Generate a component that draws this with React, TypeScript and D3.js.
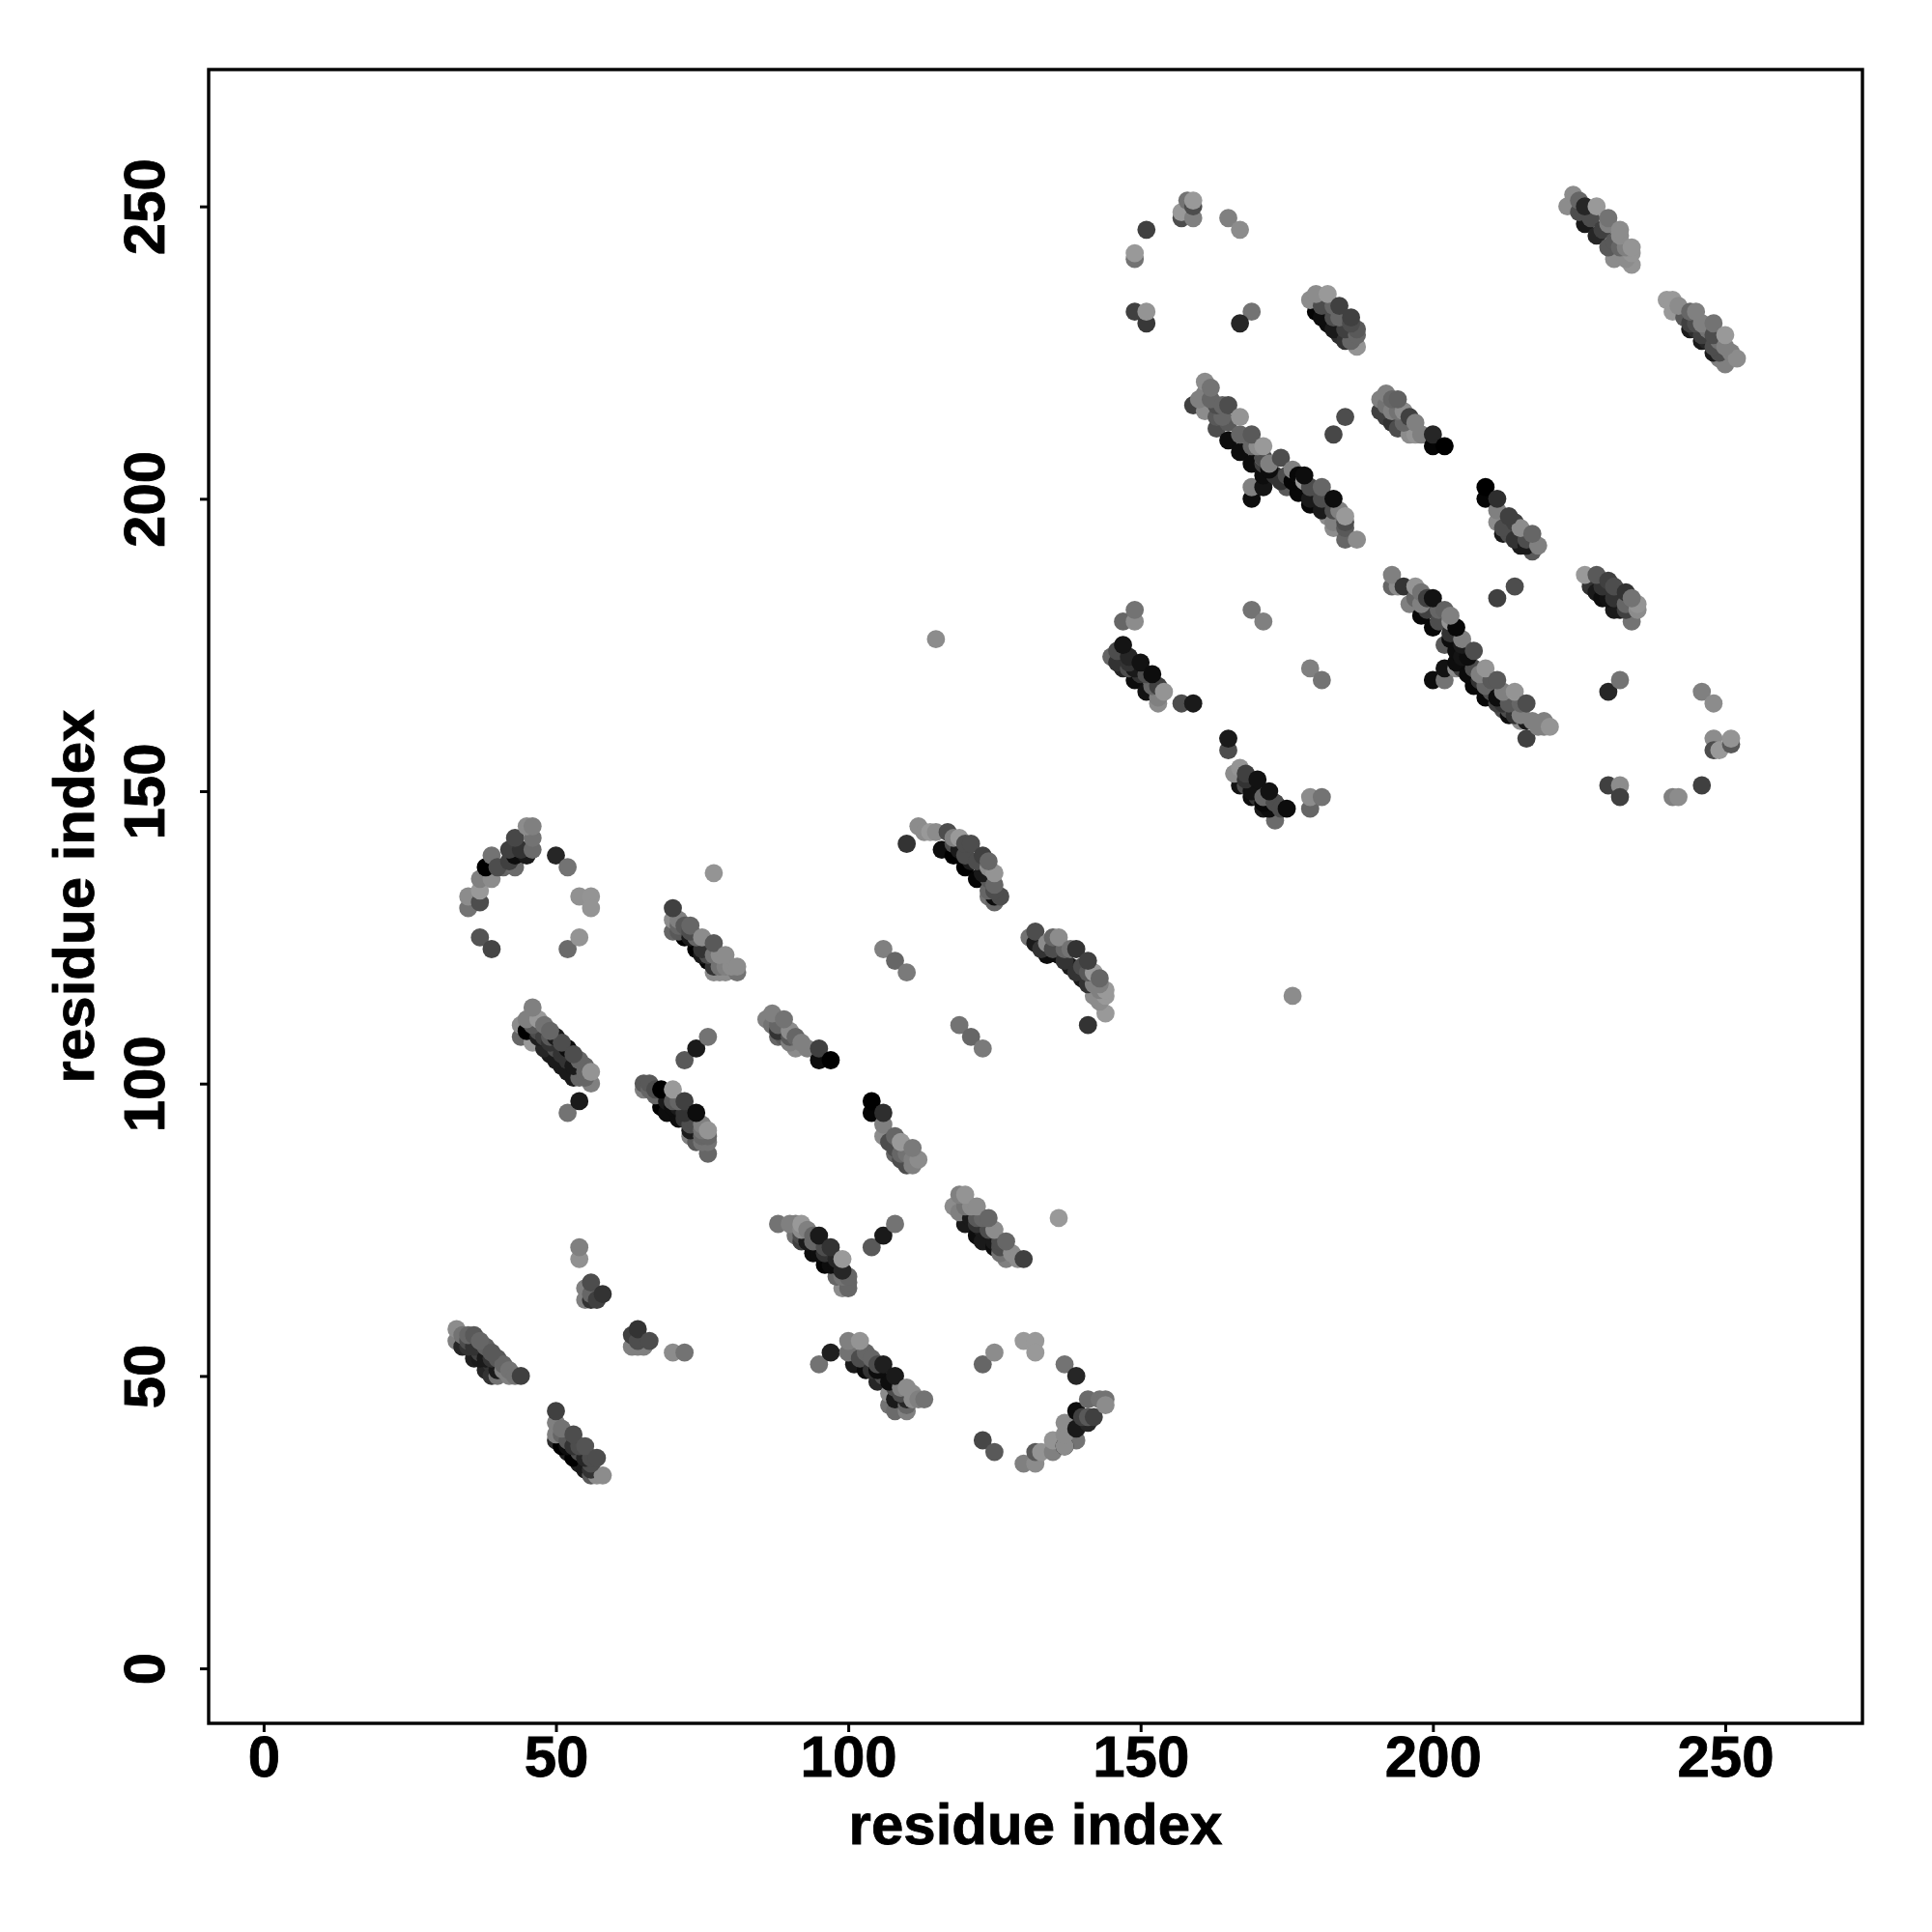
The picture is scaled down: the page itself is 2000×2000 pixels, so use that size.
import React, { useEffect, useRef } from 'react'
import * as d3 from 'd3'

type Dot = [number, number, number] // x residue, y residue, grey level

const xTicks = [0, 50, 100, 150, 200, 250]
const yTicks = [0, 50, 100, 150, 200, 250]
const axisLabel = 'residue index'

const strandA: Dot[] = [[33, 58, .55], [33, 56, .5], [34, 57, .45], [34, 55, .15], [36, 53, .12], [38, 51, .15], [39, 50, .2], [35, 57, .4], [36, 57, .35], [35, 55, .2], [37, 54, .25], [38, 55, .38], [39, 52, .2], [40, 53, .35], [40, 50, .45], [41, 51, .5], [42, 50, .5], [44, 50, .25], [35, 56, .3], [37, 56, .4], [37, 53, .1], [39, 53, .2], [41, 52, .4], [39, 54, .35], [36, 55, .2], [38, 53, .1], [40, 51, .1], [42, 51, .45], [43, 50, .45]]
const strandB: Dot[] = [[50, 44, .25], [50, 39, .18], [50, 42, .5], [50, 40, .5], [52, 37, .12], [51, 38, 0], [54, 35, .12], [53, 36, 0], [51, 40, .4], [53, 40, .3], [54, 38, .3], [55, 38, .33], [55, 34, .1], [57, 36, .3], [56, 33, .35], [57, 33, .55], [58, 33, .55], [52, 39, .35], [54, 37, .3], [53, 38, .2], [52, 38, .05], [56, 35, .3], [55, 36, .15], [56, 36, .3], [51, 41, .45], [56, 34, .2]]
const strandC: Dot[] = [[54, 72, .5], [54, 70, .57], [55, 65, .5], [55, 63, .5], [56, 63, .2], [56, 66, .3], [56, 64, .4], [57, 63, .25], [58, 64, .2]]
const strandD: Dot[] = [[63, 57, .25], [63, 55, .5], [64, 55, .5], [65, 55, .5], [64, 56, .3], [64, 58, .2], [66, 56, .3], [70, 54, .55], [72, 54, .45]]
const strandE: Dot[] = [[95, 52, .45], [97, 54, .12], [107, 45, .45], [110, 44, .5], [108, 44, .42], [100, 54, .45], [100, 56, .5], [102, 56, .58], [101, 52, .1], [103, 51, .05], [105, 49, .15], [107, 47, .55], [103, 54, .4], [104, 53, .4], [106, 52, .12], [108, 50, .1], [110, 46, .15], [109, 48, .5], [111, 47, .55], [111, 46, .55], [113, 46, .45], [102, 53, .3], [104, 51, .2], [106, 50, .3], [108, 48, .3], [110, 48, .55], [105, 52, .3], [108, 46, .1], [109, 47, .3], [107, 49, .05], [105, 51, .05], [112, 46, .5], [110, 45, .4]]
const arcLower: Dot[] = [[123, 52, .4], [125, 54, .55], [130, 56, .6], [132, 56, .6], [132, 54, .6], [137, 52, .45], [139, 50, .15], [123, 39, .28], [125, 37, .35], [130, 35, .5], [132, 35, .55], [132, 37, .35], [133, 37, .58], [135, 37, .5], [135, 39, .58], [139, 39, .45], [137, 38, 0], [137, 38, .55], [137, 40, .55], [137, 42, .55], [139, 41, .1], [139, 44, .05], [141, 42, .15], [140, 43, .25], [141, 43, .35], [142, 43, .25], [141, 46, .42], [143, 46, .45], [144, 46, .45], [144, 45, .55]]

const arcUpper: Dot[] = [[37, 125, .33], [39, 123, .27], [52, 123, .42], [54, 125, .58], [50, 139, .15], [52, 137, .45], [54, 132, .57], [56, 132, .58], [56, 130, .58], [35, 130, .45], [35, 132, .55], [37, 131, .3], [37, 133, .6], [37, 135, .5], [39, 135, .55], [38, 137, 0], [39, 139, .45], [41, 137, .4], [43, 137, .42], [40, 137, .3], [42, 138, .25], [43, 139, .05], [45, 139, .1], [42, 140, .25], [44, 140, .2], [43, 142, .28], [46, 140, .42], [46, 142, .45], [45, 144, .55], [46, 144, .5]]
const strandI: Dot[] = [[44, 108, .4], [44, 110, .55], [46, 113, .5], [46, 107, .6], [45, 109, 0], [47, 111, .6], [49, 105, .1], [47, 108, .12], [51, 103, .1], [48, 110, .45], [49, 108, .35], [53, 101, .1], [50, 108, .1], [52, 106, .05], [50, 106, .3], [54, 101, .4], [54, 104, .4], [55, 103, .4], [56, 100, .5], [56, 102, .58], [54, 97, .1], [52, 95, .45], [47, 109, .3], [48, 108, .25], [49, 107, .2], [51, 105, .2], [52, 104, .2], [53, 103, .1], [51, 107, .3], [53, 105, .3], [55, 101, .4], [55, 102, .4], [49, 109, .4], [46, 110, .35], [45, 111, .5], [48, 106, .15], [50, 104, .1], [52, 102, .1]]
const strandJ: Dot[] = [[65, 99, .5], [65, 100, .35], [66, 100, .35], [67, 98, .4], [68, 96, 0], [68, 99, 0], [70, 99, .6], [71, 94, .05], [69, 97, .1], [72, 97, .25], [71, 97, .4], [73, 92, .1], [74, 95, .05], [73, 91, .5], [75, 93, .5], [76, 90, .45], [76, 88, .4], [76, 92, .58], [76, 108, .45], [74, 106, .1], [72, 104, .35], [67, 99, .3], [69, 95, .05], [71, 96, .1], [70, 97, .35], [72, 94, .2], [73, 93, .3], [74, 93, .3], [74, 90, .35], [75, 90, .45], [75, 91, .4], [66, 99, .4], [70, 96, .05], [72, 95, .2], [76, 91, .4], [75, 92, .45]]
const strandK: Dot[] = [[86, 111, .5], [87, 112, .5], [88, 108, .4], [89, 111, .45], [90, 109, .55], [91, 106, .55], [91, 108, .4], [93, 106, .5], [95, 106, .25], [95, 104, .05], [97, 104, 0], [89, 108, .35], [88, 110, .4], [90, 108, .35], [92, 107, .5], [87, 110, .45], [90, 107, .5], [88, 109, .2]]
const strandM: Dot[] = [[70, 130, .25], [70, 126, .4], [70, 128, .55], [71, 128, .5], [72, 125, 0], [74, 123, 0], [76, 121, .02], [72, 127, .35], [73, 127, .4], [74, 125, .4], [75, 125, .55], [77, 124, .35], [76, 122, .3], [78, 119, .55], [79, 119, .55], [78, 122, .55], [79, 122, .55], [81, 119, .45], [81, 120, .55], [77, 136, .58], [73, 126, .3], [75, 123, .2], [77, 122, .45], [71, 126, .35], [75, 122, .1], [77, 120, .2], [79, 120, .5], [77, 119, .55], [80, 120, .55], [78, 120, .45], [73, 125, .1], [71, 127, .4]]
const strandN: Dot[] = [[110, 141, .2], [112, 144, .55], [114, 143, .6], [115, 143, .55], [117, 143, .3], [116, 140, .05], [118, 139, 0], [120, 137, 0], [122, 135, .02], [119, 142, .6], [120, 141, .3], [121, 141, .3], [123, 139, .25], [124, 135, .35], [124, 137, .55], [125, 136, .58], [124, 132, .45], [125, 131, .4], [125, 132, .05], [126, 132, .3], [113, 143, .55], [118, 141, .3], [119, 140, .1], [121, 138, .1], [123, 136, .1], [122, 138, .3], [124, 138, .4], [120, 139, .3], [125, 134, .4], [125, 133, .3], [124, 133, .4], [118, 142, .5]]
const strandO: Dot[] = [[131, 125, .45], [132, 124, .1], [132, 126, .3], [134, 124, .55], [135, 125, .4], [136, 125, .55], [136, 122, .05], [138, 120, .1], [140, 118, .1], [138, 123, .45], [139, 123, .2], [141, 121, .25], [142, 119, .6], [143, 118, .4], [143, 114, .55], [144, 112, .6], [144, 116, .6], [144, 115, .6], [141, 110, .2], [134, 122, .05], [133, 123, .2], [135, 123, .3], [137, 121, .2], [139, 119, .2], [140, 120, .3], [141, 119, .35], [142, 117, .5], [143, 116, .5], [142, 115, .55], [143, 117, .5], [141, 117, .2], [137, 123, .4]]
const linkDots: Dot[] = [[106, 123, .5], [108, 121, .4], [110, 119, .48], [119, 110, .45], [121, 108, .4], [123, 106, .48], [115, 176, .55], [176, 115, .55]]
const strandQ: Dot[] = [[104, 97, 0], [104, 95, .02], [106, 95, .18], [106, 93, .5], [106, 91, .55], [108, 91, .4], [108, 88, .4], [109, 90, .6], [110, 86, .3], [111, 86, .5], [111, 89, .48], [112, 87, .55], [107, 90, .3], [108, 89, .3], [110, 88, .45], [109, 87, .3], [109, 88, .4], [111, 87, .5]]
const strandG: Dot[] = [[88, 76, .45], [90, 76, .5], [91, 76, .5], [92, 76, .6], [91, 74, .45], [93, 75, .5], [94, 71, .05], [96, 69, .02], [92, 73, .25], [95, 74, .1], [94, 73, .4], [97, 72, .2], [98, 69, .05], [99, 70, .6], [99, 65, .55], [100, 65, .4], [100, 66, .4], [100, 67, .4], [108, 76, .45], [106, 74, .1], [104, 72, .35], [92, 74, .3], [93, 73, .1], [95, 71, .05], [97, 69, .05], [96, 72, .3], [98, 70, .15], [94, 74, .4], [96, 71, .2], [98, 67, .4], [99, 67, .45], [99, 68, .15], [92, 75, .55]]
const strandH: Dot[] = [[118, 79, .55], [119, 81, .5], [120, 81, .58], [122, 79, .55], [120, 76, .1], [122, 74, .05], [124, 77, .4], [125, 75, .55], [125, 72, .05], [123, 73, .1], [127, 73, .4], [127, 70, .5], [128, 71, .55], [129, 70, .55], [130, 70, .25], [136, 77, .6], [121, 77, .1], [123, 75, .1], [125, 73, .1], [119, 78, .5], [122, 77, .35], [124, 75, .3], [126, 73, .3], [120, 79, .45], [126, 71, .45], [123, 77, .4], [121, 79, .55], [122, 76, .2], [126, 72, .3]]

const arcTop: Dot[] = [[149, 241, .45], [149, 242, .6], [151, 246, .25], [157, 248, .3], [157, 249, .6], [159, 248, .5], [158, 251, .45], [159, 250, .3], [159, 251, .6], [165, 248, .5], [167, 246, .55], [149, 232, .25], [151, 230, .22], [151, 232, .58], [169, 232, .45], [167, 230, .15]]
const strandR: Dot[] = [[179, 234, .55], [180, 235, .55], [182, 235, .6], [180, 232, .02], [182, 230, .05], [184, 228, .18], [183, 233, .4], [184, 233, .25], [186, 231, .25], [187, 226, .58], [187, 228, .4], [187, 229, .35], [181, 233, .3], [183, 231, .3], [185, 229, .25], [186, 230, .3], [184, 231, .4], [181, 231, .05], [183, 229, .1], [185, 227, .2], [186, 227, .4]]
const strandS: Dot[] = [[159, 216, .25], [161, 215, .55], [161, 218, .5], [161, 220, .55], [162, 219, .45], [163, 216, .3], [163, 212, .3], [165, 216, .3], [164, 216, .4], [165, 210, .05], [167, 214, .58], [167, 208, .05], [169, 211, .35], [171, 206, .25], [170, 209, .55], [171, 209, .6], [171, 207, .55], [175, 202, .35], [174, 207, .3], [176, 205, .5], [177, 201, .03], [177, 204, .03], [178, 204, .05], [178, 203, .6], [179, 199, .03], [181, 202, .4], [182, 197, .55], [183, 195, .55], [183, 200, .05], [184, 198, .5], [185, 195, .35], [185, 193, .4], [185, 197, .6], [187, 193, .55], [169, 202, .5], [171, 202, .08], [169, 200, .05], [185, 214, .3], [183, 211, .28], [169, 206, .05], [171, 204, .05], [165, 213, .35], [167, 211, .4], [169, 209, .4], [171, 207, .3], [173, 204, .2], [175, 204, .3], [177, 202, .03], [179, 202, .3], [181, 200, .3], [183, 198, .3], [185, 196, .3], [176, 203, .02], [163, 214, .35], [164, 214, .4], [172, 206, .5], [174, 203, .2], [172, 205, .05], [179, 200, .1], [181, 198, .1], [183, 196, .5], [162, 217, .4], [160, 217, .5]]
const strandT: Dot[] = [[191, 217, .5], [192, 218, .5], [192, 214, .25], [193, 217, .4], [194, 217, .38], [195, 215, .55], [196, 214, .25], [196, 211, .55], [197, 211, .58], [198, 211, .5], [200, 211, .15], [200, 209, .02], [202, 209, 0], [193, 213, .2], [194, 212, .3], [194, 215, .45], [192, 216, .45], [193, 215, .5], [195, 213, .4], [197, 213, .5], [191, 215, .25]]
const strandU: Dot[] = [[224, 252, .55], [223, 250, .55], [225, 251, .4], [225, 249, .3], [226, 250, .15], [226, 247, .1], [228, 250, .6], [228, 245, .15], [230, 243, .35], [230, 248, .45], [232, 246, .55], [231, 241, .55], [234, 242, .58], [234, 240, .58], [227, 248, .3], [229, 246, .25], [231, 244, .35], [232, 243, .4], [233, 243, .5], [230, 247, .5], [232, 245, .55], [234, 243, .58], [233, 241, .55]]
const strandV: Dot[] = [[240, 234, .6], [241, 234, .6], [241, 232, .6], [242, 233, .55], [244, 232, .4], [245, 232, .5], [245, 229, .18], [247, 227, .15], [248, 230, .45], [249, 225, .3], [250, 223, .5], [250, 228, .6], [251, 225, .5], [252, 224, .55], [246, 228, .25], [248, 226, .3], [249, 227, .45], [247, 229, .45], [246, 230, .5], [243, 231, .35], [245, 230, .3], [244, 230, .25], [248, 228, .3], [250, 226, .5], [249, 224, .5], [244, 229, .1], [246, 227, .1], [248, 225, .1]]
const strandW: Dot[] = [[209, 202, 0], [209, 200, .02], [211, 200, .18], [211, 198, .5], [211, 196, .55], [213, 194, .3], [214, 196, .25], [215, 192, .1], [215, 195, .55], [217, 191, .35], [217, 194, .4], [218, 192, .5], [212, 195, .3], [214, 193, .2], [212, 194, .1], [216, 193, .3], [216, 192, .1], [213, 197, .25]]
const strandP: Dot[] = [[149, 181, .45], [147, 179, .4], [149, 179, .55], [147, 175, .08], [145, 173, .4], [148, 173, .15], [147, 171, .15], [150, 172, .07], [149, 169, .05], [152, 170, .05], [151, 167, .07], [153, 165, .55], [153, 168, .25], [154, 167, .58], [157, 165, .3], [159, 165, .1], [169, 181, .45], [171, 179, .5], [179, 171, .5], [181, 169, .45], [146, 172, .2], [148, 171, .3], [150, 170, .2], [152, 168, .4], [151, 170, .3], [146, 174, .3], [149, 171, .1], [153, 166, .5], [148, 172, .2]]
const strandX: Dot[] = [[165, 159, .1], [165, 157, .3], [167, 154, .58], [166, 153, .55], [168, 153, .25], [167, 151, .07], [169, 149, .05], [170, 152, .07], [172, 150, .07], [171, 147, .1], [173, 145, .42], [173, 148, .2], [175, 147, .05], [179, 149, .55], [179, 147, .4], [181, 149, .45], [168, 151, .3], [170, 149, .2], [172, 147, .05], [168, 152, .2], [171, 149, .4], [169, 150, .07], [173, 148, .3], [174, 147, .3], [171, 148, .03]]
const strandY: Dot[] = [[193, 187, .5], [193, 185, .4], [194, 185, .55], [195, 185, .2], [197, 185, .58], [196, 182, .5], [198, 184, .45], [199, 183, .25], [200, 183, .07], [198, 180, .03], [200, 178, .03], [202, 181, .38], [203, 179, .58], [204, 178, .03], [205, 176, .5], [202, 175, .35], [204, 174, .05], [207, 174, .3], [204, 171, .55], [205, 171, .25], [207, 171, .3], [209, 171, .58], [207, 168, .03], [209, 166, .03], [210, 169, .35], [211, 169, .35], [212, 164, .3], [213, 164, .3], [212, 167, .5], [214, 167, .58], [216, 159, .25], [215, 162, .55], [216, 162, .1], [216, 165, .3], [217, 162, .5], [219, 162, .5], [220, 161, .58], [202, 171, .07], [200, 169, .05], [202, 169, .45], [211, 183, .25], [214, 185, .3], [199, 181, .25], [201, 179, .3], [203, 177, .2], [205, 175, .1], [206, 173, .05], [208, 169, .2], [210, 167, .3], [212, 165, .2], [214, 163, .2], [215, 163, .5], [197, 183, .4], [198, 182, .5], [204, 172, .05], [205, 173, .08], [206, 170, .04], [209, 168, .4], [211, 165, .25], [213, 165, .35], [215, 165, .4], [218, 161, .5], [219, 161, .5], [208, 170, .5], [203, 180, .5], [201, 181, .4], [211, 166, .05], [213, 163, .05], [203, 176, .05]]
const strandZ: Dot[] = [[226, 187, .6], [228, 187, .35], [227, 185, .2], [230, 186, .25], [230, 183, .07], [233, 184, .2], [232, 181, .1], [234, 179, .45], [235, 182, .58], [235, 181, .55], [232, 169, .45], [230, 167, .15], [229, 185, .2], [231, 183, .2], [233, 181, .25], [228, 184, .1], [231, 185, .3], [229, 183, .05], [231, 181, .1], [233, 182, .4], [234, 183, .45]]
const arcRight: Dot[] = [[246, 167, .5], [248, 165, .55], [248, 159, .55], [248, 157, .3], [249, 157, .6], [251, 158, .35], [251, 159, .58], [230, 151, .25], [232, 151, .55], [232, 149, .25], [241, 149, .5], [242, 149, .55], [246, 151, .25]]

const bandStrands = [strandA, strandB, strandC, strandD, strandE, strandI, strandJ, strandK, strandM, strandN, strandO, linkDots, strandQ, strandG, strandH, strandR, strandS, strandT, strandU, strandV, strandW, strandP, strandX, strandY, strandZ]
const arcStrands = [arcLower, arcUpper, arcTop, arcRight]

const FONT = '"Liberation Sans", Arial, sans-serif'

export default function App() {
  const svgRef = useRef<SVGSVGElement>(null)

  useEffect(() => {
    if (!svgRef.current) return
    const svg = d3.select(svgRef.current)
    svg.selectAll('*').remove()

    const frame = { left: 216, right: 1928, top: 72, bottom: 1784 }

    const x = d3.scaleLinear().domain([-9.4, 273.47]).range([frame.left, frame.right])
    const y = d3.scaleLinear().domain([-9.4, 273.4]).range([frame.bottom, frame.top])

    svg.append('rect').attr('width', 2000).attr('height', 2000).attr('fill', '#fff')

    // Upper right of each band sits on top, the dark lower line only shows as a crescent
    const sorted = bandStrands.map(s => d3.sort(s, d => d[0] + d[1]))
    const dots = [...sorted, ...arcStrands].flat()

    svg.append('g')
      .selectAll('circle')
      .data(dots)
      .join('circle')
      .attr('cx', d => x(d[0]))
      .attr('cy', d => y(d[1]))
      .attr('r', 9.4)
      .attr('fill', d => d3.rgb(d[2] * 255, d[2] * 255, d[2] * 255).formatHex())

    svg.append('rect')
      .attr('x', frame.left)
      .attr('y', frame.top)
      .attr('width', frame.right - frame.left)
      .attr('height', frame.bottom - frame.top)
      .attr('fill', 'none')
      .attr('stroke', '#000')
      .attr('stroke-width', 3.4)

    // Axes
    const xAxis = svg.append('g')
      .attr('transform', `translate(0,${frame.bottom})`)
      .call(d3.axisBottom(x).tickValues(xTicks).tickSize(9).tickSizeOuter(0).tickFormat(d => `${d}`))
    const yAxis = svg.append('g')
      .attr('transform', `translate(${frame.left},0)`)
      .call(d3.axisLeft(y).tickValues(yTicks).tickSize(9).tickSizeOuter(0).tickFormat(d => `${d}`))

    xAxis.select('.domain').remove()
    yAxis.select('.domain').remove()
    svg.selectAll('.tick line').attr('stroke', '#000').attr('stroke-width', 3)

    xAxis.selectAll('.tick text')
      .attr('y', 55)
      .attr('dy', 0)
      .attr('text-anchor', 'middle')
    yAxis.selectAll('.tick text')
      .attr('x', 0)
      .attr('dy', 0)
      .attr('text-anchor', 'middle')
      .attr('transform', 'translate(-46,0) rotate(-90)')
    svg.selectAll('.tick text')
      .attr('fill', '#000')
      .attr('stroke', '#000')
      .attr('stroke-width', 0.8)
      .style('font-family', FONT)
      .style('font-weight', '700')
      .style('font-size', '60px')

    svg.append('text')
      .attr('x', (frame.left + frame.right) / 2)
      .attr('y', 1909)
      .attr('text-anchor', 'middle')
      .attr('stroke', '#000')
      .attr('stroke-width', 0.8)
      .style('font-family', FONT)
      .style('font-weight', '700')
      .style('font-size', '60px')
      .text(axisLabel)

    svg.append('text')
      .attr('transform', `translate(97,${(frame.top + frame.bottom) / 2}) rotate(-90)`)
      .attr('text-anchor', 'middle')
      .attr('stroke', '#000')
      .attr('stroke-width', 0.8)
      .style('font-family', FONT)
      .style('font-weight', '700')
      .style('font-size', '60px')
      .text(axisLabel)
  }, [])

  return (
    <svg
      ref={svgRef}
      width={2000}
      height={2000}
      style={{ position: 'absolute', left: 0, top: 0, display: 'block' }}
    />
  )
}
